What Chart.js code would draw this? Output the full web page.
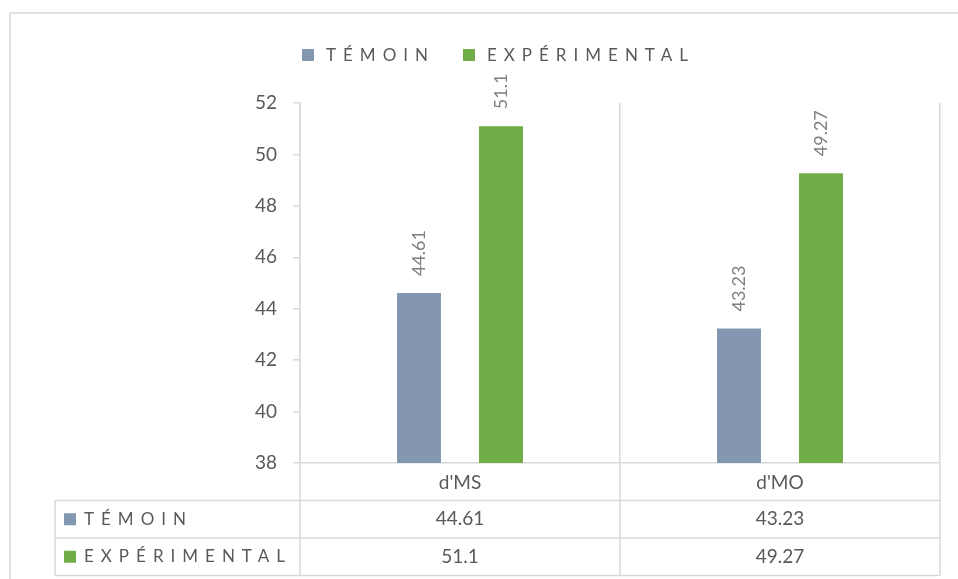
<!DOCTYPE html>
<html>
<head>
<meta charset="utf-8">
<script src="https://cdn.jsdelivr.net/npm/chart.js@4/dist/chart.umd.min.js"></script>
<style>
    html, body { margin: 0; padding: 0; background: #fff; }
    #wrap { position: relative; width: 958px; height: 579px; }
</style>
</head>
<body>
<div id="wrap"><canvas id="chart"></canvas></div>
<script>
const categories = ["d'MS", "d'MO"];
const seriesNames = ['TÉMOIN', 'EXPÉRIMENTAL'];
const temoinValues = [44.61, 43.23];
const experimentalValues = [51.1, 49.27];
const yTicks = [38, 40, 42, 44, 46, 48, 50, 52];

const colors = ['#8497B0', '#70AD47'];
const textColor = '#595959';
const lineColor = '#D9D9D9';
const fontFamily = 'Lato, "Open Sans", sans-serif';

// cadre extérieur du graphique (Excel)
const framePlugin = {
    id: 'frame',
    beforeDraw(chart) {
        const ctx = chart.ctx;
        ctx.save();
        ctx.strokeStyle = lineColor;
        ctx.lineWidth = 1.5;
        ctx.beginPath();
        ctx.moveTo(10, chart.height);
        ctx.lineTo(10, 13);
        ctx.lineTo(chart.width, 13);
        ctx.stroke();
        ctx.restore();
    },
};

// étiquettes de valeurs verticales au-dessus des barres
const valueLabels = {
    id: 'valueLabels',
    afterDatasetsDraw(chart) {
        const ctx = chart.ctx;
        ctx.save();
        ctx.fillStyle = '#7F7F7F';
        ctx.font = '18px ' + fontFamily;
        ctx.textAlign = 'left';
        ctx.textBaseline = 'middle';
        chart.data.datasets.forEach((ds, di) => {
            chart.getDatasetMeta(di).data.forEach((bar, i) => {
                ctx.save();
                ctx.translate(bar.x, bar.y - 17);
                ctx.rotate(-Math.PI / 2);
                ctx.fillText(String(ds.data[i]), 0, 0);
                ctx.restore();
            });
        });
        ctx.restore();
    },
};

function drawSpaced(ctx, text, x, y) {
    ctx.letterSpacing = '7px';
    ctx.fillText(text, x, y);
    const w = ctx.measureText(text).width;
    ctx.letterSpacing = '0px';
    return w;
}

// légende en haut + table de données sous l'axe
const legendAndTable = {
    id: 'legendAndTable',
    afterDraw(chart) {
        const ctx = chart.ctx;
        const x = chart.scales.x;
        const top = chart.chartArea.bottom;
        const rowH = 37.5;
        const tableLeft = 55;
        const colW = (x.right - x.left) / categories.length;

        ctx.save();

        // légende
        ctx.font = '17px ' + fontFamily;
        ctx.fillStyle = textColor;
        ctx.textBaseline = 'middle';
        ctx.textAlign = 'left';
        let lx = 302;
        seriesNames.forEach((name, i) => {
            ctx.fillStyle = colors[i];
            ctx.fillRect(lx, 49, 12, 12);
            ctx.fillStyle = textColor;
            const w = drawSpaced(ctx, name, lx + 24, 56);
            lx += 24 + w + 28;
        });

        // lignes de la table
        ctx.strokeStyle = lineColor;
        ctx.lineWidth = 1.5;
        ctx.beginPath();
        for (let r = 1; r <= seriesNames.length + 1; r++) {
            const y = top + r * rowH;
            ctx.moveTo(tableLeft, y);
            ctx.lineTo(x.right, y);
        }
        ctx.moveTo(tableLeft, top + rowH);
        ctx.lineTo(tableLeft, top + rowH * 3);
        for (let c = 0; c <= categories.length; c++) {
            const cx = x.left + c * colW;
            ctx.moveTo(cx, top);
            ctx.lineTo(cx, top + rowH * 3);
        }
        ctx.stroke();

        // lignes des séries
        const rows = [temoinValues, experimentalValues];
        rows.forEach((vals, r) => {
            const cy = top + rowH * (r + 1.5);
            ctx.fillStyle = colors[r];
            ctx.fillRect(64, cy - 6, 12, 12);
            ctx.fillStyle = textColor;
            ctx.font = '17px ' + fontFamily;
            ctx.textAlign = 'left';
            drawSpaced(ctx, seriesNames[r], 84, cy);
            ctx.font = '19px ' + fontFamily;
            ctx.textAlign = 'center';
            vals.forEach((v, i) => {
                ctx.fillText(String(v), x.getPixelForValue(i), cy);
            });
        });

        ctx.restore();
    },
};

new Chart(document.getElementById('chart'), {
    type: 'bar',
    data: {
        labels: categories,
        datasets: [
            { label: seriesNames[0], data: temoinValues, backgroundColor: colors[0] },
            { label: seriesNames[1], data: experimentalValues, backgroundColor: colors[1] },
        ],
    },
    options: {
        responsive: true,
        maintainAspectRatio: false,
        animation: false,
        datasets: { bar: { categoryPercentage: 0.5125, barPercentage: 0.536 } },
        layout: { padding: { top: 103, right: 18, left: 0, bottom: 0 } },
        plugins: {
            legend: { display: false },
            tooltip: { enabled: false },
        },
        scales: {
            x: {
                offset: true,
                afterFit: (scale) => { scale.height = 116; },
                grid: { color: lineColor, lineWidth: 1.5, drawTicks: false, offset: true },
                border: { color: lineColor, width: 1.5 },
                ticks: { color: textColor, font: { family: fontFamily, size: 19 }, padding: 8 },
            },
            y: {
                min: 38,
                max: 52,
                afterFit: (scale) => { scale.width = 300; },
                afterBuildTicks: (scale) => { scale.ticks = yTicks.map((v) => ({ value: v })); },
                grid: { color: lineColor, lineWidth: 1.5, drawOnChartArea: false, tickLength: 7 },
                border: { color: lineColor, width: 1.5 },
                ticks: { color: textColor, font: { family: fontFamily, size: 19 }, padding: 16 },
            },
        },
    },
    plugins: [framePlugin, valueLabels, legendAndTable],
});
</script>
</body>
</html>
